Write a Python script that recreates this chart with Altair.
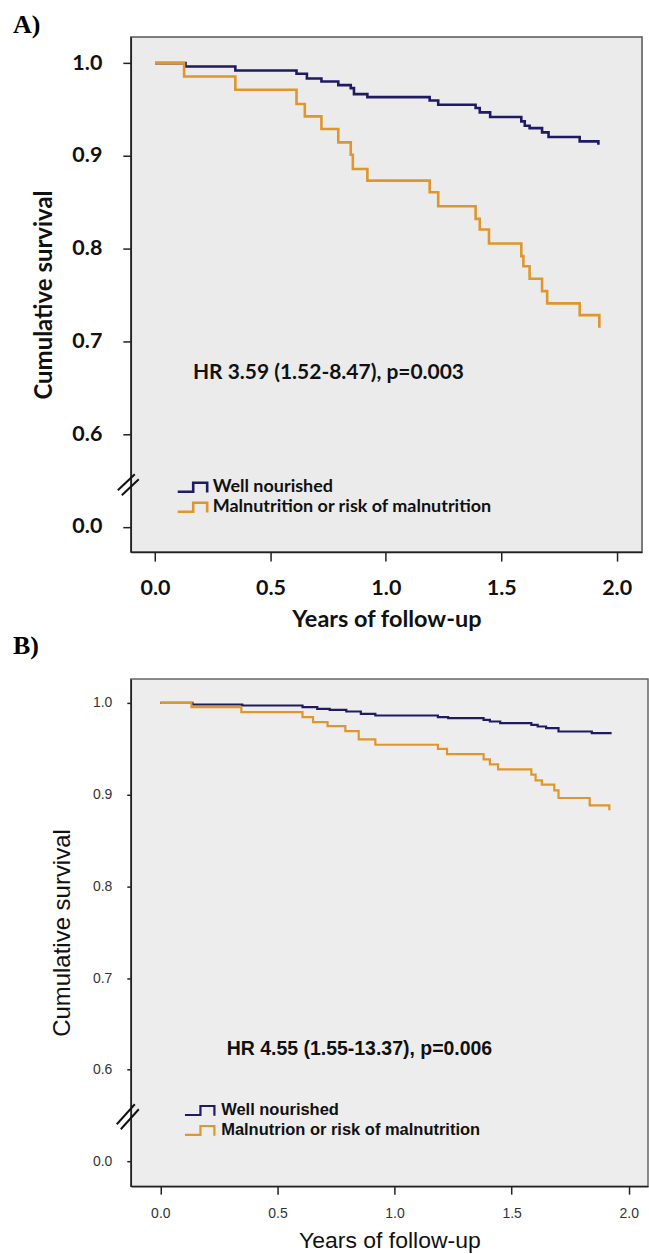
import altair as alt
import pandas as pd

# ---------------- data ----------------
GROUPS_A = ["Well nourished", "Malnutrition or risk of malnutrition"]
GROUPS_B = ["Well nourished", "Malnutrion or risk of malnutrition"]

A_WELL_T = [0.0, 0.132, 0.348, 0.613, 0.658, 0.721, 0.794, 0.848, 0.862, 0.920, 1.190,
            1.227, 1.389, 1.407, 1.452, 1.587, 1.602, 1.623, 1.677, 1.705, 1.840, 1.921]
A_WELL_S = [1.0, 0.9964, 0.9921, 0.9885, 0.9835, 0.9803, 0.9763, 0.9731, 0.9666, 0.9634, 0.9598,
            0.9551, 0.9516, 0.9469, 0.9419, 0.9372, 0.9325, 0.9300, 0.9254, 0.9203, 0.9157, 0.9121]
A_MAL_T = [0.0, 0.126, 0.348, 0.613, 0.649, 0.721, 0.794, 0.848, 0.857, 0.920, 1.190,
           1.227, 1.389, 1.407, 1.447, 1.587, 1.596, 1.623, 1.677, 1.699, 1.840, 1.925]
A_MAL_S = [1.0, 0.9856, 0.9713, 0.9559, 0.9426, 0.9290, 0.9146, 0.9013, 0.8859, 0.8733, 0.8608,
           0.8457, 0.8321, 0.8206, 0.8055, 0.7919, 0.7811, 0.7675, 0.7542, 0.7410, 0.7283, 0.7147]

B_WELL_T = [0.0, 0.137, 0.350, 0.607, 0.670, 0.723, 0.794, 0.856, 0.918, 1.185, 1.229,
            1.380, 1.407, 1.451, 1.584, 1.611, 1.647, 1.700, 1.842, 1.922]
B_WELL_S = [1.0, 0.9982, 0.9971, 0.9953, 0.9935, 0.9924, 0.9906, 0.9880, 0.9862, 0.9844, 0.9833,
            0.9815, 0.9797, 0.9779, 0.9761, 0.9742, 0.9724, 0.9688, 0.9670, 0.9659]
B_MAL_T = [0.0, 0.133, 0.346, 0.607, 0.652, 0.714, 0.790, 0.847, 0.918, 1.185, 1.224,
           1.380, 1.407, 1.442, 1.584, 1.602, 1.629, 1.682, 1.700, 1.833, 1.917]
B_MAL_S = [1.0, 0.9953, 0.9898, 0.9844, 0.9790, 0.9746, 0.9692, 0.9601, 0.9543, 0.9499, 0.9441,
           0.9383, 0.9329, 0.9275, 0.9217, 0.9155, 0.9108, 0.9046, 0.8963, 0.8883, 0.8828]

X_TICKS = [0.0, 0.5, 1.0, 1.5, 2.0]
Y_TICKS = [0.5, 0.6, 0.7, 0.8, 0.9, 1.0]   # 0.5 position carries the broken-axis "0.0" label
HR_A = "HR 3.59 (1.52-8.47), p=0.003"
HR_B = "HR 4.55 (1.55-13.37), p=0.006"
X_TITLE = "Years of follow-up"
Y_TITLE = "Cumulative survival"

NAVY = "#1e1b63"
ORANGE = "#df962b"
# step-shaped legend glyph (small nominal size, drawn wide)
LEG_PATH = "M-3,0.9H0.1V-0.9H2.9V1.05"
LABEL_EXPR = "datum.value < 0.55 ? '0.0' : format(datum.value, '.1f')"


def curves(groups, series):
    rows = []
    for g, (ts, ss) in zip(groups, series):
        for t, s in zip(ts, ss):
            rows.append({"t": t, "s": s, "g": g})
    return pd.DataFrame(rows)


def one(v):
    return pd.DataFrame({"txt": [v]})


def panel(df, groups, xdom, ydom, w, h, st):
    x = alt.X("t:Q", scale=alt.Scale(domain=xdom, nice=False, zero=False),
              axis=alt.Axis(values=X_TICKS, format=".1f", title=X_TITLE, grid=False,
                            domainColor="#222", domainWidth=1.5, tickColor="#222", tickWidth=1.5,
                            tickSize=st["xtick"], labelFont=st["font"], labelFontSize=st["tickfs"],
                            labelFontWeight=st["tickw"], labelColor=st["tickc"],
                            labelPadding=st["xlabpad"], labelFlush=False,
                            titleFont=st["font"], titleFontSize=st["xtitlefs"],
                            titleFontWeight=st["titlew"], titleColor="#111",
                            titlePadding=st["xtitlepad"]))
    y = alt.Y("s:Q", scale=alt.Scale(domain=ydom, nice=False, zero=False),
              axis=alt.Axis(values=Y_TICKS, labelExpr=LABEL_EXPR, title=Y_TITLE, grid=False,
                            domainColor="#222", domainWidth=1.5, tickColor="#222", tickWidth=1.5,
                            tickSize=st["ytick"], labelFont=st["font"], labelFontSize=st["tickfs"],
                            labelFontWeight=st["tickw"], labelColor=st["tickc"],
                            labelPadding=st["ylabpad"],
                            titleFont=st["font"], titleFontSize=st["ytitlefs"],
                            titleFontWeight=st["titlew"], titleColor="#111",
                            titlePadding=st["ytitlepad"]))
    leg = alt.Legend(orient="none", legendX=st["legx"], legendY=st["legy"], title=None,
                     symbolType=LEG_PATH, symbolSize=100, symbolStrokeWidth=st["lw"],
                     symbolFillColor="transparent", labelFont=st["legfont"],
                     labelFontSize=st["legfs"], labelFontWeight="bold", labelColor="#111",
                     labelOffset=st["legoff"], labelLimit=400, rowPadding=st["legrow"], padding=0)
    color = alt.Color("g:N", scale=alt.Scale(domain=groups, range=[NAVY, ORANGE]), legend=leg)
    base = alt.Chart(df)
    l1 = base.transform_filter(alt.datum.g == groups[0]).mark_line(
        interpolate="step-after", strokeWidth=st["lw"]).encode(x=x, y=y, color=color)
    l2 = base.transform_filter(alt.datum.g == groups[1]).mark_line(
        interpolate="step-after", strokeWidth=st["lw"]).encode(x=x, y=y, color=color)
    hr = alt.Chart(one(st["hr"])).mark_text(
        font=st["legfont"], fontSize=st["hrfs"], fontWeight="bold", color="#111",
        align="center", baseline="middle").encode(
        x=alt.value(st["hrx"]), y=alt.value(st["hry"]), text="txt:N")
    layers = [l1, l2, hr]
    for (cx, cy) in st["breaks"]:
        layers.append(alt.Chart(one("b")).mark_rule(color="#111", strokeWidth=2).encode(
            x=alt.value(cx - st["bdx"]), x2=alt.value(cx + st["bdx"]),
            y=alt.value(cy + st["bdy"]), y2=alt.value(cy - st["bdy"])))
    lab = alt.Chart(one(st["lab"])).mark_text(
        font="Liberation Serif", fontSize=26, fontWeight="bold", color="black",
        align="left", baseline="alphabetic").encode(
        x=alt.value(st["labx"]), y=alt.value(st["laby"]), text="txt:N")
    layers.append(lab)
    return alt.layer(*layers).properties(
        width=w, height=h,
        view=alt.ViewBackground(fill=st["bg"], stroke=st["frame"], strokeWidth=1.5))


dfA = curves(GROUPS_A, [(A_WELL_T, A_WELL_S), (A_MAL_T, A_MAL_S)])
dfB = curves(GROUPS_B, [(B_WELL_T, B_WELL_S), (B_MAL_T, B_MAL_S)])

stA = dict(font="Lato", tickfs=21.5, tickw="bold", tickc="#111", xtick=9, ytick=8,
           xlabpad=16, ylabpad=21, xtitlefs=23.5, ytitlefs=24, titlew="bold",
           xtitlepad=9, ytitlepad=15, legx=53, legy=442, legoff=11, lw=2.6, legfont="Lato",
           legfs=18, legrow=-1, hr=HR_A, hrfs=21, hrx=198, hry=337,
           breaks=[(-4.5, 446), (-0.5, 451)], bdx=8.5, bdy=8,
           lab="A)", labx=-118, laby=-4, bg="#ebebeb", frame="#555")
stB = dict(font="Liberation Sans", tickfs=14, tickw="normal", tickc="#333", xtick=8, ytick=4,
           xlabpad=12, ylabpad=15, xtitlefs=23, ytitlefs=24, titlew="normal",
           xtitlepad=9, ytitlepad=18, legx=61, legy=424, legoff=13, lw=2.2,
           legfont="Liberation Sans", legfs=16.5, legrow=1,
           hr=HR_B, hrfs=19.5, hrx=229, hry=371,
           breaks=[(-5, 436), (-1, 441)], bdx=9, bdy=10,
           lab="B)", labx=-118, laby=-25, bg="#ededed", frame="#666")

chartA = panel(dfA, GROUPS_A, [-0.105, 2.110], [0.4728, 1.0283], 512, 516, stA)
chartB = panel(dfB, GROUPS_B, [-0.126, 2.082], [0.4731, 1.0261], 518, 508, stB)

chart = alt.vconcat(chartA, chartB, spacing=0).resolve_scale(
    x="independent", y="independent", color="independent").resolve_legend(
    color="independent").properties(
    padding={"left": 12, "top": 10, "right": 0, "bottom": 0}, background="white")

chart.save("out.html", embed_options={"renderer": "svg", "actions": False})
